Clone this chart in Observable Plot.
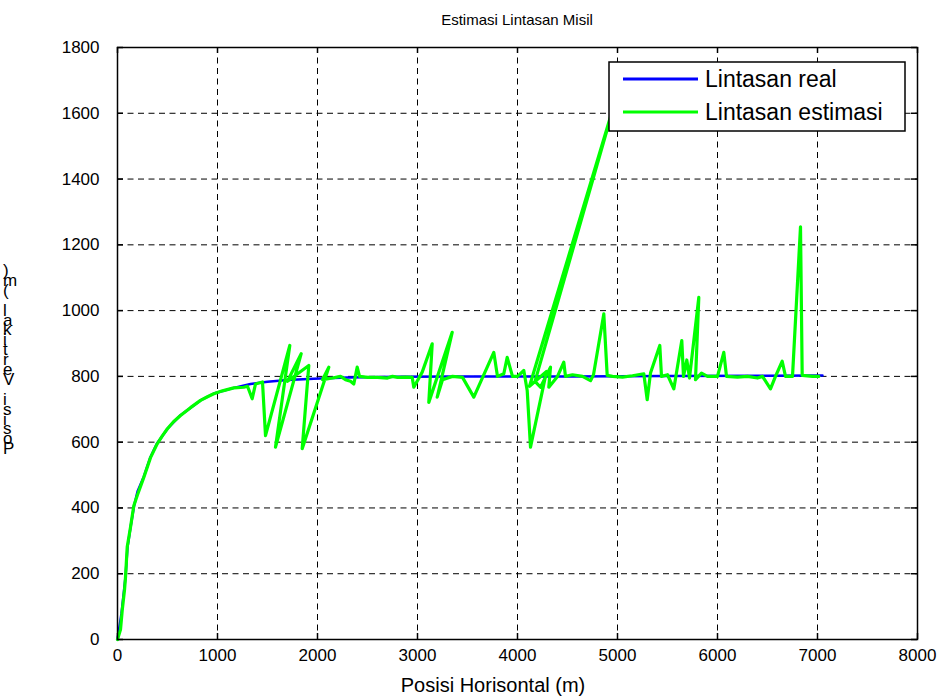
<!DOCTYPE html>
<html><head><meta charset="utf-8">
<script src="https://cdn.jsdelivr.net/npm/d3@7"></script>
<script src="https://cdn.jsdelivr.net/npm/@observablehq/plot@0.6"></script>
<style>
body{margin:0;background:#fff}
svg{font-family:"Liberation Sans",Arial,sans-serif}
</style>
</head><body><div id="chart"></div>
<script>
// ---- data ----
const titleText = "Estimasi Lintasan Misil";
const xLabelText = "Posisi Horisontal (m)";
const yLabelText = "Posisi Vertikal (m)";
const seriesNames = ["Lintasan real", "Lintasan estimasi"];
const xTicks = [0, 1000, 2000, 3000, 4000, 5000, 6000, 7000, 8000];
const yTicks = [0, 200, 400, 600, 800, 1000, 1200, 1400, 1600, 1800];

const realX = [0, 40, 80, 100, 130, 165, 200, 263, 330, 397, 500, 630, 830, 963, 1163, 1330, 1500, 1700, 1963, 2300, 2800, 3500, 4500, 5500, 6500, 7050];
const realY = [0, 80, 190, 280, 340, 405, 450, 495, 555, 597, 641, 682, 727, 748, 765, 777, 784, 789, 793, 797, 799, 800, 800, 801, 802, 803];

const estX = [0, 30, 47, 70, 80, 97, 130, 163, 200, 263, 330, 397, 450, 497, 560, 630, 730, 830, 900, 963, 1050, 1163, 1263, 1300, 1347, 1380, 1450, 1480, 1723, 1580, 1837, 1700, 1913, 1847, 2113, 2050, 2150, 2230, 2280, 2330, 2363, 2397, 2420, 2500, 2600, 2700, 2750, 2800, 2900, 2947, 2963, 3047, 3147, 3113, 3347, 3197, 3250, 3350, 3450, 3563, 3763, 3800, 3863, 3897, 3950, 4000, 4063, 4097, 4130, 4290, 4120, 5000, 4175, 4230, 4330, 4313, 4400, 4463, 4480, 4550, 4650, 4730, 4760, 4863, 4897, 4950, 5050, 5150, 5263, 5297, 5330, 5423, 5440, 5500, 5563, 5643, 5660, 5693, 5720, 5813, 5780, 5840, 5900, 6000, 6063, 6090, 6200, 6300, 6400, 6450, 6530, 6580, 6647, 6680, 6750, 6830, 6847, 6950, 7013];
const estY = [0, 30, 88, 150, 189, 281, 341, 407, 440, 493, 553, 595, 620, 640, 662, 681, 705, 727, 738, 747, 756, 765, 767, 770, 732, 777, 783, 620, 894, 585, 869, 785, 833, 580, 828, 790, 795, 800, 790, 785, 777, 828, 800, 797, 797, 795, 800, 797, 798, 797, 767, 813, 899, 721, 934, 737, 790, 800, 797, 737, 873, 800, 808, 858, 800, 800, 818, 757, 585, 815, 770, 1660, 785, 767, 828, 767, 800, 843, 800, 805, 800, 787, 805, 990, 803, 800, 798, 802, 808, 729, 810, 894, 800, 805, 762, 909, 800, 850, 795, 1040, 790, 810, 800, 800, 873, 800, 798, 800, 795, 800, 762, 800, 846, 800, 800, 1255, 803, 800, 800];

const real = realX.map((x, i) => ({x, y: realY[i]}));
const est = estX.map((x, i) => ({x, y: estY[i]}));

// ---- layout ----
const W = 943, H = 698, mL = 117, mR = 26, mT = 47, mB = 59;
const innerW = W - mL - mR, innerH = H - mT - mB;
const font = '"Liberation Sans", Arial, sans-serif';

const chart = Plot.plot({
  width: W, height: H,
  marginLeft: mL, marginRight: mR, marginTop: mT, marginBottom: mB,
  style: {fontFamily: font, fontSize: "17px", color: "black", background: "white", overflow: "visible"},
  x: {domain: [0, 8000], ticks: xTicks, tickFormat: d => String(d), tickSize: 0, tickPadding: 9, label: null},
  y: {domain: [0, 1800], ticks: yTicks, tickFormat: d => String(d), tickSize: 0, tickPadding: 18, label: null},
  marks: [
    Plot.ruleX(xTicks, {x: d => d, stroke: "black", strokeWidth: 1, strokeDasharray: "6,4.5"}),
    Plot.ruleY(yTicks, {y: d => d, stroke: "black", strokeWidth: 1, strokeDasharray: "6,4.5"}),
    Plot.tickX(xTicks, {x: d => d, insetTop: innerH - 6, stroke: "black", strokeWidth: 1.5}),
    Plot.tickX(xTicks, {x: d => d, insetBottom: innerH - 6, stroke: "black", strokeWidth: 1.5}),
    Plot.tickY(yTicks, {y: d => d, insetRight: innerW - 6, stroke: "black", strokeWidth: 1.5}),
    Plot.tickY(yTicks, {y: d => d, insetLeft: innerW - 6, stroke: "black", strokeWidth: 1.5}),
    Plot.line(real, {x: "x", y: "y", stroke: "#0000ff", strokeWidth: 2.5}),
    Plot.line(est, {x: "x", y: "y", stroke: "#00ff00", strokeWidth: 3.2}),
    Plot.frame({stroke: "black", strokeWidth: 1.5})
  ]
});
document.getElementById("chart").appendChild(chart);

const svg = d3.select(chart);
// title
svg.append("text").attr("x", mL + innerW / 2).attr("y", 25)
  .attr("text-anchor", "middle").attr("font-size", 15).attr("fill", "black")
  .attr("font-family", font).text(titleText);
// x label
svg.append("text").attr("x", 493).attr("y", 692)
  .attr("text-anchor", "middle").attr("font-size", 20).attr("fill", "black")
  .attr("font-family", font).text(xLabelText);
// y label (glyphs stacked upright, last character on top)
const yl = svg.append("text").attr("font-size", 17).attr("fill", "black")
  .attr("font-family", font).attr("text-anchor", "start");
const chars = Array.from(yLabelText).reverse();
chars.forEach((c, i) => {
  yl.append("tspan").attr("x", 3).attr("y", 276 + i * 9.9).text(c === " " ? "\u00a0" : c);
});
// legend
const lg = svg.append("g");
lg.append("rect").attr("x", 609).attr("y", 62).attr("width", 296).attr("height", 69)
  .attr("fill", "white").attr("stroke", "black").attr("stroke-width", 1.5);
const legColors = ["#0000ff", "#00ff00"];
seriesNames.forEach((name, i) => {
  const cy = 79 + i * 33;
  lg.append("line").attr("x1", 623).attr("x2", 698).attr("y1", cy).attr("y2", cy)
    .attr("stroke", legColors[i]).attr("stroke-width", 3);
  lg.append("text").attr("x", 705).attr("y", cy + 8).attr("font-size", 23)
    .attr("text-anchor", "start")
    .attr("fill", "black").attr("font-family", font).text(name);
});
</script>
</body></html>
